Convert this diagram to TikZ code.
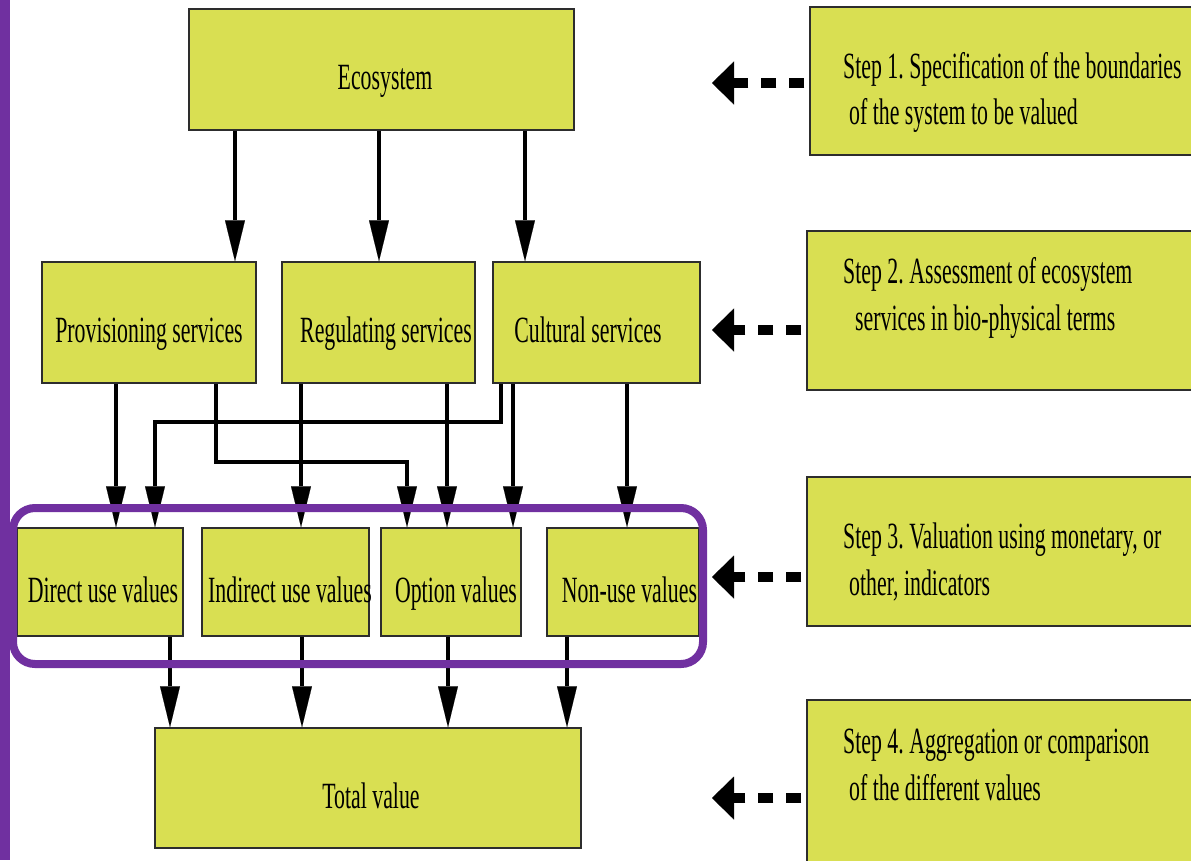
\documentclass[tikz,border=0pt]{standalone}
\usepackage{graphicx}
\usepackage{fontspec}
\setmainfont{Liberation Serif}
\usetikzlibrary{arrows.meta}
\frenchspacing

\definecolor{boxfill}{RGB}{217,223,82}
\definecolor{boxline}{RGB}{45,45,45}
\definecolor{framecol}{RGB}{112,48,160}

% condensed label, optionally moved sideways by #1 without changing its width
\newcommand\lbl[2][0pt]{\hspace*{#1}\scalebox{0.59}[1]{#2}\hspace*{-#1}}

\begin{document}
\begin{tikzpicture}[x=1pt,y=-1pt,
  box/.style={draw=boxline, line width=1.5pt, fill=boxfill, inner sep=0pt,
    font=\fontsize{37}{44}\selectfont, text height=40pt, text depth=0pt},
  steptext/.style={font=\fontsize{37}{44}\selectfont, inner sep=0pt, anchor=base west},
  conn/.style={line width=4.5pt, -{Triangle[length=41pt,width=20pt,line width=0.1pt]}},
  dasharrow/.style={line width=10pt, dash pattern=on 15pt off 13pt, shorten <=5pt,
    -{Triangle[length=22pt,width=43pt,line width=0.1pt]}}]

\clip (0,0) rectangle (1191,860);
\fill[white] (0,0) rectangle (1191,860);
\fill[framecol] (0,0) rectangle (10,860);

% main chain
\node[box, minimum width=385, minimum height=121] (eco) at (381.5,69.5) {\lbl[3.5pt]{Ecosystem}};

\node[box, minimum width=214, minimum height=121] (prov) at (149,322.5) {\lbl{Provisioning services}};
\node[box, minimum width=193, minimum height=121] (reg) at (378.5,322.5) {\lbl[7.5pt]{Regulating services}};
\node[box, minimum width=207, minimum height=121] (cult) at (596.5,322.5) {\lbl[-8.5pt]{Cultural services}};

\node[box, minimum width=166, minimum height=108] (direct) at (100,582) {\lbl[3pt]{Direct use values}};
\node[box, minimum width=167, minimum height=108] (indirect) at (285.5,582) {\lbl[4.5pt]{Indirect use values}};
\node[box, minimum width=140, minimum height=108] (option) at (451,582) {\lbl[5pt]{Option values}};
\node[box, minimum width=152, minimum height=108] (nonuse) at (623,582) {\lbl[6.5pt]{Non-use values}};

\node[box, minimum width=426, minimum height=120] (total) at (368,788) {\lbl[3pt]{Total value}};

% step boxes on the right
\node[box, minimum width=385, minimum height=148] (s1) at (1002.5,81) {};
\node[box, minimum width=388, minimum height=159] (s2) at (1001,310.5) {};
\node[box, minimum width=388, minimum height=149] (s3) at (1001,551.5) {};
\node[box, minimum width=388, minimum height=175] (s4) at (1001,787.5) {};

\node[steptext] (s1a) at (843,78) {\lbl{Step 1. Specification of the boundaries}};
\node[steptext] (s1b) at (849,124) {\lbl{of the system to be valued}};
\node[steptext] (s2a) at (843,283) {\lbl{Step 2. Assessment of ecosystem}};
\node[steptext] (s2b) at (855,330) {\lbl{services in bio-physical terms}};
\node[steptext] (s3a) at (843,548) {\lbl{Step 3. Valuation using monetary, or}};
\node[steptext] (s3b) at (849,595) {\lbl{other, indicators}};
\node[steptext] (s4a) at (843,753) {\lbl{Step 4. Aggregation or comparison}};
\node[steptext] (s4b) at (849,800) {\lbl{of the different values}};

% column positions of the connectors
\coordinate (c1) at (235,0);
\coordinate (c2) at (379,0);
\coordinate (c3) at (525,0);
\coordinate (p1) at (116,0);
\coordinate (p2) at (216,0);
\coordinate (r1) at (301,0);
\coordinate (r2) at (447,0);
\coordinate (k1) at (501,0);
\coordinate (k2) at (513,0);
\coordinate (k3) at (627,0);
\coordinate (d2) at (155,0);
\coordinate (o1) at (407,0);
\coordinate (v1) at (170,0);
\coordinate (v2) at (302,0);
\coordinate (v3) at (448,0);
\coordinate (v4) at (567,0);
\coordinate (h1) at (0,422);
\coordinate (h2) at (0,462);

\draw[conn] (eco.south -| c1) -- (prov.north -| c1);
\draw[conn] (eco.south -| c2) -- (reg.north -| c2);
\draw[conn] (eco.south -| c3) -- (cult.north -| c3);

\draw[conn] (prov.south -| p1) -- (direct.north -| p1);
\draw[conn] (prov.south -| p2) |- (h2 -| o1) -- (option.north -| o1);
\draw[conn] (reg.south -| r1) -- (indirect.north -| r1);
\draw[conn] (reg.south -| r2) -- (option.north -| r2);
\draw[conn] (cult.south -| k1) |- (h1 -| d2) -- (direct.north -| d2);
\draw[conn] (cult.south -| k2) -- (option.north -| k2);
\draw[conn] (cult.south -| k3) -- (nonuse.north -| k3);

\draw[conn] (direct.south -| v1) -- (total.north -| v1);
\draw[conn] (indirect.south -| v2) -- (total.north -| v2);
\draw[conn] (option.south -| v3) -- (total.north -| v3);
\draw[conn] (nonuse.south -| v4) -- (total.north -| v4);

% frame round the four kinds of value
\draw[framecol, line width=8pt, rounded corners=22pt] (13,508) rectangle (703,664);

% dashed pointers from the steps
\coordinate (t1) at (712,83);
\coordinate (t2) at (712,330);
\coordinate (t3) at (712,577);
\coordinate (t4) at (712,798);
\draw[dasharrow] (s1.west |- t1) -- (t1);
\draw[dasharrow] (s2.west |- t2) -- (t2);
\draw[dasharrow] (s3.west |- t3) -- (t3);
\draw[dasharrow] (s4.west |- t4) -- (t4);
\end{tikzpicture}
\end{document}
